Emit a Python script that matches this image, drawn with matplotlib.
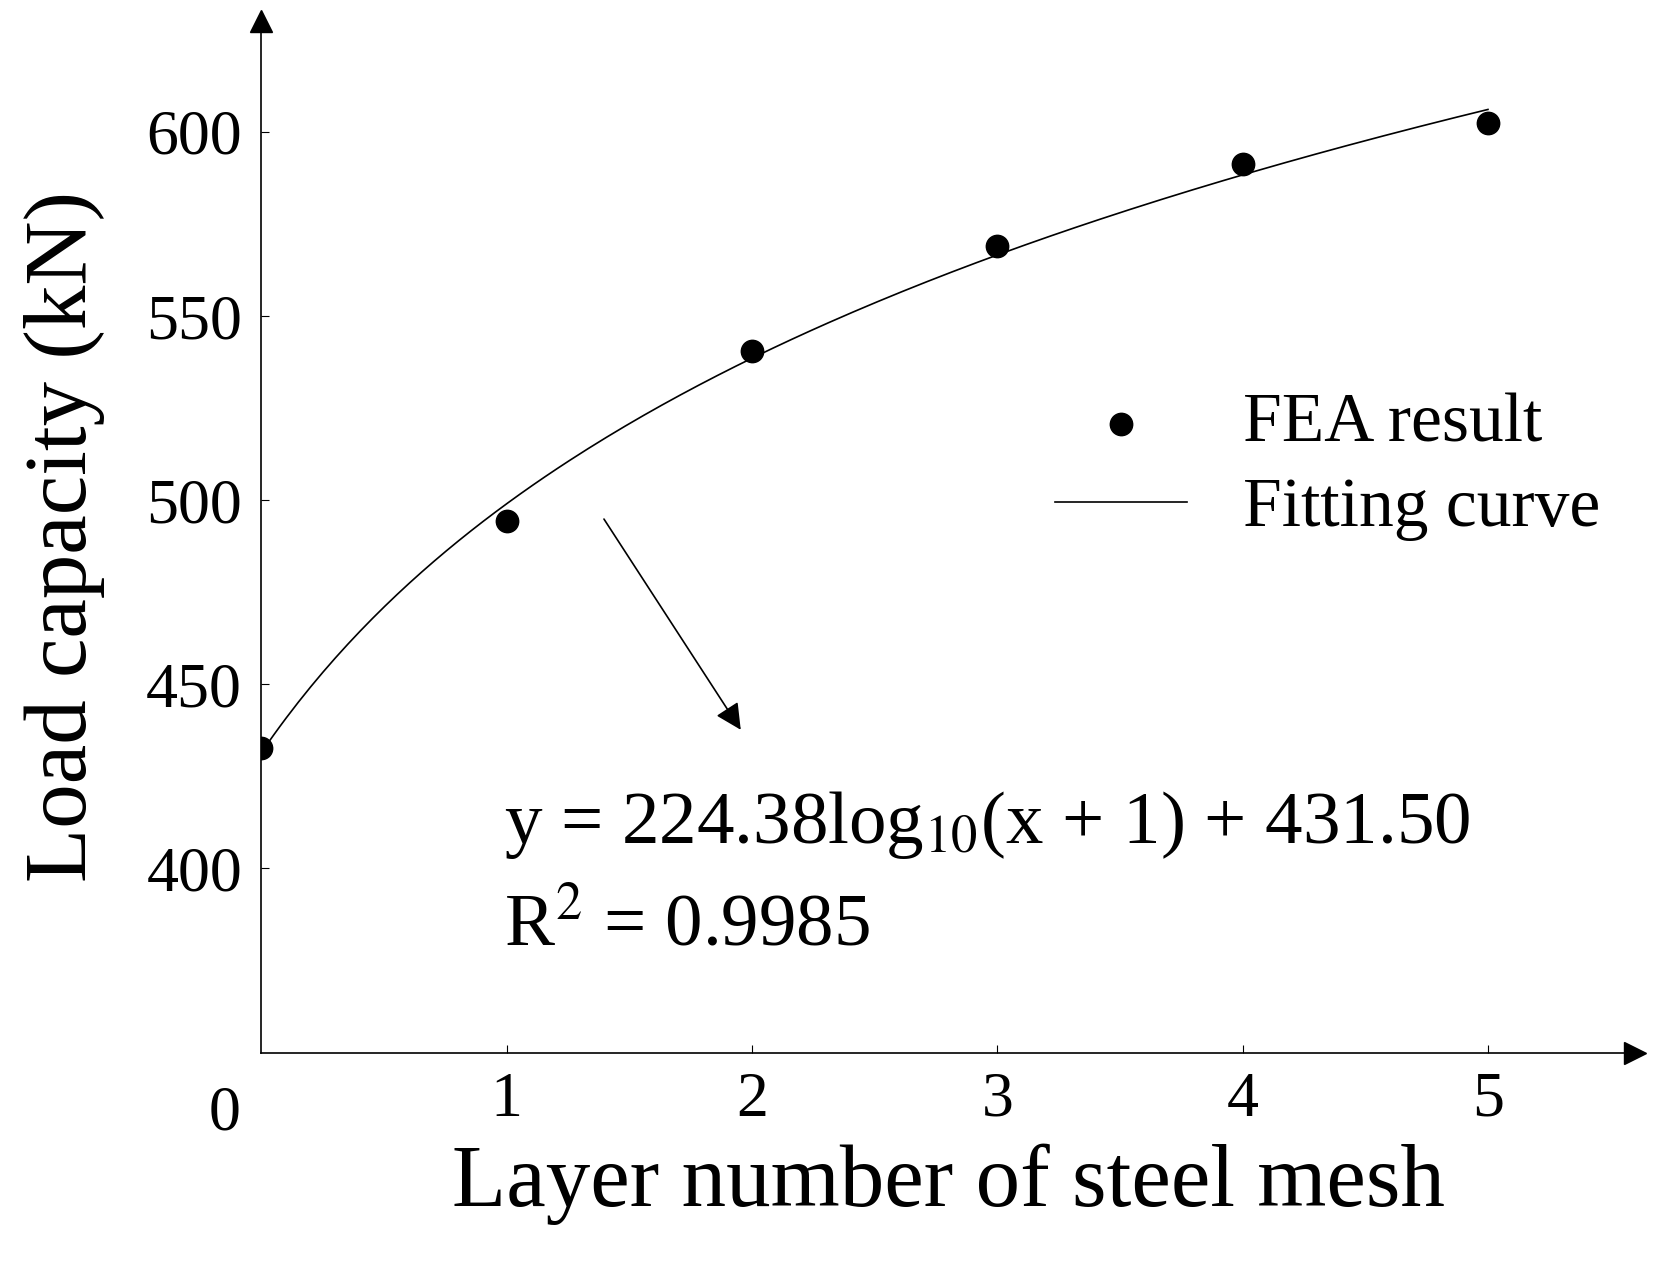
import numpy as np
import matplotlib
matplotlib.use("Agg")
import matplotlib.pyplot as plt

# FEA results
layers = [0, 1, 2, 3, 4, 5]
load_kn = [432.8, 494.3, 540.6, 569.1, 591.4, 602.3]
# fit: y = a*log10(x+1) + b
fit_a, fit_b = 224.38, 431.50

plt.rcParams["font.family"] = ["Liberation Serif", "DejaVu Serif"]
plt.rcParams["mathtext.fontset"] = "stix"

fig = plt.figure(figsize=(16.55, 12.62), dpi=100)
ax = fig.add_axes([0.158, 0.166, 0.83, 0.817])

xf = np.linspace(0, 5, 200)
ax.plot(xf, fit_a * np.log10(xf + 1) + fit_b, color="black", lw=1.2, label="Fitting curve")
ax.scatter(layers, load_kn, s=260, color="black", zorder=3, label="FEA result")

ax.set_xlim(0, 5.6)
ax.set_ylim(350, 630)
ax.set_xticks([1, 2, 3, 4, 5])
ax.set_yticks([400, 450, 500, 550, 600])
ax.tick_params(direction="in", length=6, labelsize=46, pad=14)
ax.text(-0.15, 350 - 9, "0", fontsize=46, ha="center", va="top")
for s in ("top", "right"):
    ax.spines[s].set_visible(False)
for s in ("left", "bottom"):
    ax.spines[s].set_linewidth(1.2)
# axis arrows
ax.plot(1, 0, ">k", ms=16, transform=ax.transAxes, clip_on=False)
ax.plot(0, 1, "^k", ms=16, transform=ax.transAxes, clip_on=False)

ax.set_xlabel("Layer number of steel mesh", fontsize=64, labelpad=10)
ax.set_ylabel("Load capacity (kN)", fontsize=64, labelpad=30)

h, l = ax.get_legend_handles_labels()
ax.legend(h[::-1], l[::-1], loc="upper right", bbox_to_anchor=(1.02, 0.70),
          frameon=False, fontsize=50, handlelength=1.9, markerscale=1.0,
          labelspacing=0.3)

ax.annotate("", xy=(1.96, 437), xytext=(1.39, 495.5),
            arrowprops=dict(arrowstyle="-|>", color="black", lw=1.2, mutation_scale=40))
ax.text(0.99, 407, r"y = 224.38log$_{10}$(x + 1) + 431.50", fontsize=54, va="baseline")
ax.text(0.99, 379, r"R$^2$ = 0.9985", fontsize=54, va="baseline")

fig.savefig("out.png", dpi=100)
